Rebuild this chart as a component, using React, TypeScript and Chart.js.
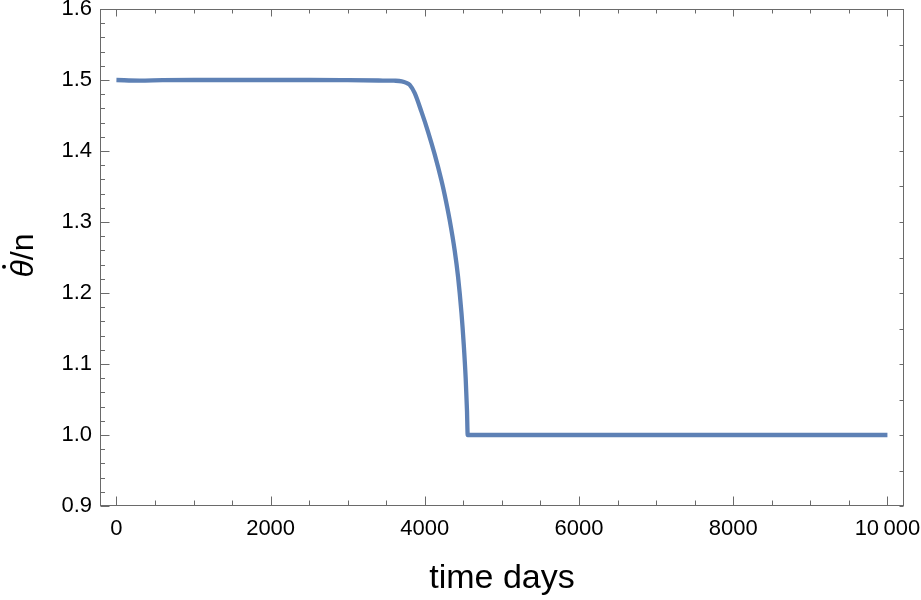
import React, { useEffect, useRef } from "react";
import { Chart, registerables } from "chart.js";

Chart.register(...registerables);

// ---- data ----
const timeDays = [
  0, 300, 600, 1000, 1500, 2000, 2500, 3000, 3400, 3600, 3700, 3761, 3804, 3869,
  3956, 4041, 4128, 4215, 4258, 4323, 4388, 4431, 4475, 4505, 4530, 4547, 4556,
  5000, 6000, 7000, 8000, 9000, 9500, 10000,
];
const thetaRatio = [
  1.5, 1.4992, 1.4998, 1.5, 1.5, 1.5, 1.5, 1.4997, 1.4993, 1.499, 1.4982, 1.496,
  1.4932, 1.4815, 1.4554, 1.4274, 1.3952, 1.3587, 1.3381, 1.3023, 1.2594, 1.2229,
  1.1723, 1.1273, 1.0798, 1.0339, 1.0, 1.0, 1.0, 1.0, 1.0, 1.0, 1.0, 1.0,
];

const xTickValues = [0, 2000, 4000, 6000, 8000, 10000];
const xTickLabels = ["0", "2000", "4000", "6000", "8000", "10\u2009000"];
const yTickValues = [0.9, 1.0, 1.1, 1.2, 1.3, 1.4, 1.5, 1.6];
const yTickLabels = ["0.9", "1.0", "1.1", "1.2", "1.3", "1.4", "1.5", "1.6"];

const xTitle = "time days";
const yTitleSymbol = "\u03B8";
const yTitleRest = "/n";

const LINE_COLOR = "#5e81b5";
const FRAME_COLOR = "#6a6a6a";
const FONT = "'Liberation Sans', Arial, sans-serif";

const range = (a: number, b: number, step: number) => {
  const out: number[] = [];
  for (let v = a; v <= b + step * 1e-6; v += step) out.push(Math.round(v * 1e6) / 1e6);
  return out;
};

const framePlugin = {
  id: "mmaFrame",
  beforeDatasetsDraw(chart: any) {
    const { ctx, chartArea: a, scales } = chart;
    const xs = scales.x;
    const ys = scales.y;
    ctx.save();
    ctx.strokeStyle = FRAME_COLOR;
    ctx.lineWidth = 1;
    ctx.strokeRect(Math.round(a.left) + 0.5, Math.round(a.top) + 0.5, Math.round(a.right - a.left) - 1, Math.round(a.bottom - a.top) - 1);

    const L = Math.round(a.left) + 0.5;
    const R = Math.round(a.right) - 0.5;
    const T = Math.round(a.top) + 0.5;
    const B = Math.round(a.bottom) - 0.5;
    ctx.beginPath();
    // bottom & top
    for (const v of range(0, 10000, 500)) {
      const px = Math.round(xs.getPixelForValue(v)) + 0.5;
      const major = v % 2000 === 0;
      ctx.moveTo(px, B);
      ctx.lineTo(px, B - (major ? 9 : 5));
      ctx.moveTo(px, T);
      ctx.lineTo(px, T + (major ? 7 : 4));
    }
    // left
    for (const v of range(0.9, 1.6, 0.02)) {
      const py = Math.round(ys.getPixelForValue(v)) + 0.5;
      const major = Math.abs(v * 10 - Math.round(v * 10)) < 1e-6;
      ctx.moveTo(L, py);
      ctx.lineTo(L + (major ? 9 : 4.5), py);
    }
    // right
    for (const v of range(0.9, 1.6, 0.05)) {
      const py = Math.round(ys.getPixelForValue(v)) + 0.5;
      ctx.moveTo(R, py);
      ctx.lineTo(R - 4, py);
    }
    ctx.stroke();

    // axis titles
    ctx.fillStyle = "#000";
    ctx.font = `34px ${FONT}`;
    ctx.textAlign = "center";
    ctx.textBaseline = "alphabetic";
    ctx.fillText(xTitle, (a.left + a.right) / 2, 588);

    ctx.translate(33, (a.top + a.bottom) / 2 - 2);
    ctx.rotate(-Math.PI / 2);
    ctx.font = `italic 32px ${FONT}`;
    const w1 = ctx.measureText(yTitleSymbol).width;
    ctx.font = `32px ${FONT}`;
    const w2 = ctx.measureText(yTitleRest).width;
    const start = -(w1 + w2) / 2;
    ctx.textAlign = "left";
    ctx.font = `italic 32px ${FONT}`;
    ctx.fillText(yTitleSymbol, start, 0);
    ctx.beginPath();
    ctx.arc(start + w1 * 0.62, -29, 2, 0, Math.PI * 2);
    ctx.fill();
    ctx.font = `32px ${FONT}`;
    ctx.fillText(yTitleRest, start + w1, 0);
    ctx.restore();
  },
};

export default function App() {
  const ref = useRef<HTMLCanvasElement | null>(null);
  useEffect(() => {
    if (!ref.current) return;
    const chart = new Chart(ref.current, {
      type: "line",
      data: {
        datasets: [
          {
            data: timeDays.map((x, i) => ({ x, y: thetaRatio[i] })),
            borderColor: LINE_COLOR,
            borderWidth: 4.3,
            pointRadius: 0,
            fill: false,
            cubicInterpolationMode: "monotone",
            borderJoinStyle: "round",
          },
        ],
      },
      options: {
        animation: false,
        responsive: false,
        devicePixelRatio: 1,
        layout: { padding: { top: 9, right: 17, left: 0, bottom: 0 } },
        plugins: { legend: { display: false }, tooltip: { enabled: false } },
        scales: {
          x: {
            type: "linear",
            min: -213,
            max: 10215,
            grid: { display: false, drawTicks: false },
            border: { display: false },
            afterBuildTicks: (s: any) => {
              s.ticks = xTickValues.map((v) => ({ value: v }));
            },
            afterFit: (s: any) => {
              s.height = 94;
              s.paddingLeft = 0;
              s.paddingRight = 0;
            },
            ticks: {
              autoSkip: false,
              maxRotation: 0,
              padding: 10,
              color: "#000",
              font: { family: FONT, size: 22 },
              callback: (v: any) => xTickLabels[xTickValues.indexOf(Number(v))] ?? "",
            },
          },
          y: {
            type: "linear",
            min: 0.9,
            max: 1.6,
            grid: { display: false, drawTicks: false },
            border: { display: false },
            afterBuildTicks: (s: any) => {
              s.ticks = yTickValues.map((v) => ({ value: v }));
            },
            afterFit: (s: any) => {
              s.width = 100;
              s.paddingTop = 0;
              s.paddingBottom = 0;
            },
            ticks: {
              autoSkip: false,
              padding: 8,
              color: "#000",
              font: { family: FONT, size: 22 },
              callback: (v: any) => {
                const i = yTickValues.findIndex((t) => Math.abs(t - Number(v)) < 1e-6);
                return i >= 0 ? yTickLabels[i] : "";
              },
            },
          },
        },
      } as any,
      plugins: [framePlugin],
    });
    return () => chart.destroy();
  }, []);
  return (
    <div style={{ position: "absolute", left: 0, top: 0, width: 921, height: 600, background: "#fff" }}>
      <canvas ref={ref} width={921} height={600} />
    </div>
  );
}
